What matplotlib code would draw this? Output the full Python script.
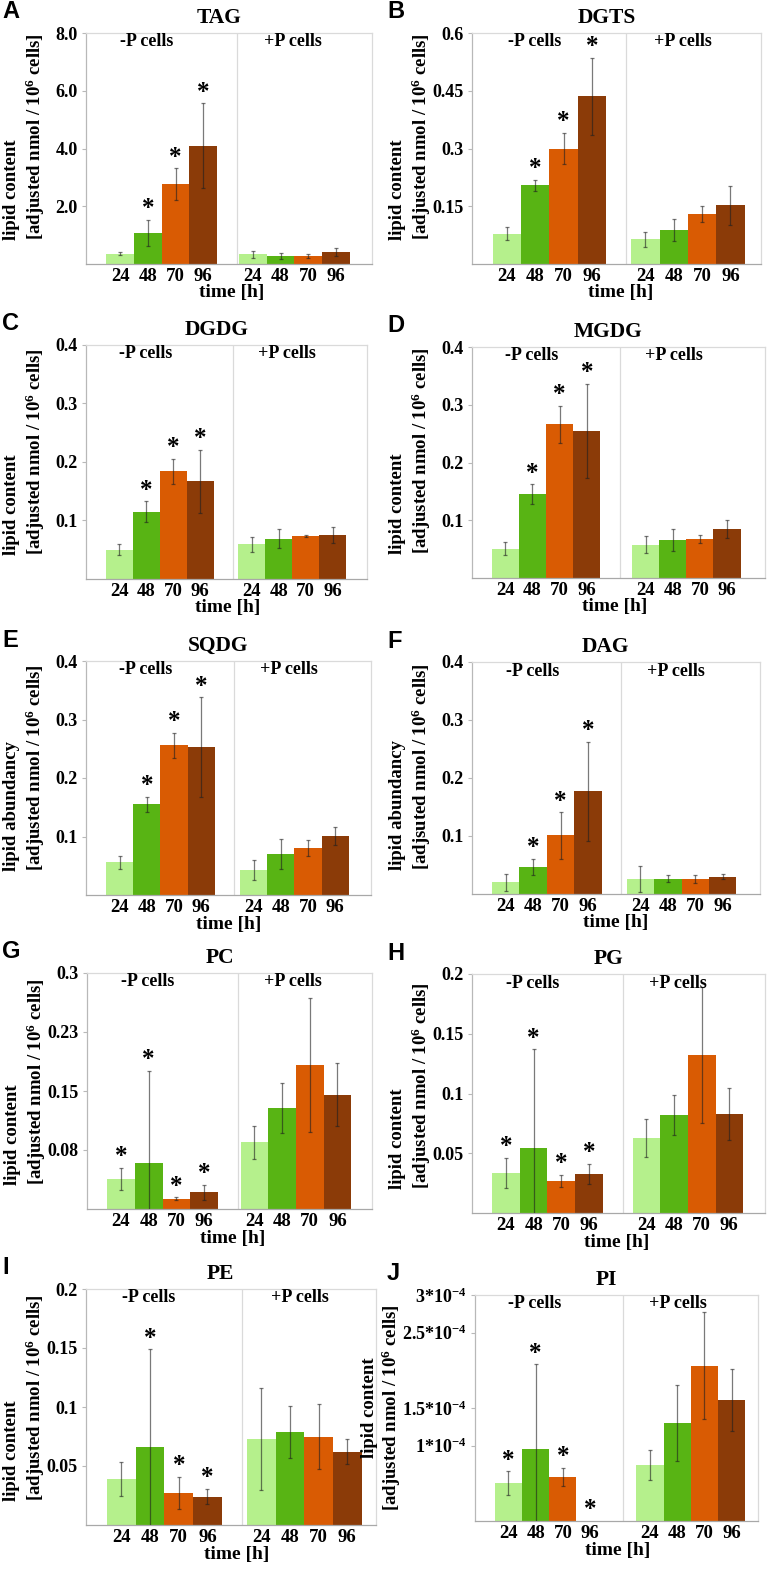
import matplotlib
matplotlib.use('Agg')
import matplotlib.pyplot as plt
import matplotlib.transforms as mtransforms
import numpy as np

W, H, DPI = 772, 1571, 100

plt.rcParams['font.family'] = ['Liberation Serif', 'DejaVu Serif']
plt.rcParams['font.weight'] = 'bold'
plt.rcParams['mathtext.fontset'] = 'custom'
plt.rcParams['mathtext.rm'] = 'Liberation Serif:bold'
plt.rcParams['mathtext.it'] = 'Liberation Serif:bold'
plt.rcParams['mathtext.bf'] = 'Liberation Serif:bold'

# ---------------- data ----------------
times = ["24", "48", "70", "96"]
colors = ['#b5f08c', '#58b414', '#d95b03', '#8b3b08']

TAG_minus = [0.36, 1.08, 2.76, 4.09]
TAG_minus_err = [0.06, 0.44, 0.56, 1.47]
TAG_plus = [0.34, 0.27, 0.27, 0.42]
TAG_plus_err = [0.12, 0.10, 0.07, 0.13]
TAG_stars = [0, 1, 1, 1]

DGTS_minus = [0.079, 0.204, 0.300, 0.436]
DGTS_minus_err = [0.017, 0.014, 0.040, 0.100]
DGTS_plus = [0.064, 0.089, 0.129, 0.152]
DGTS_plus_err = [0.020, 0.029, 0.021, 0.051]
DGTS_stars = [0, 1, 1, 1]

DGDG_minus = [0.050, 0.115, 0.184, 0.167]
DGDG_minus_err = [0.009, 0.018, 0.021, 0.054]
DGDG_plus = [0.059, 0.069, 0.073, 0.075]
DGDG_plus_err = [0.013, 0.016, 0.002, 0.014]
DGDG_stars = [0, 1, 1, 1]

MGDG_minus = [0.051, 0.145, 0.266, 0.255]
MGDG_minus_err = [0.012, 0.017, 0.032, 0.081]
MGDG_plus = [0.058, 0.066, 0.068, 0.085]
MGDG_plus_err = [0.014, 0.019, 0.007, 0.016]
MGDG_stars = [0, 1, 1, 1]

SQDG_minus = [0.056, 0.155, 0.256, 0.253]
SQDG_minus_err = [0.011, 0.013, 0.021, 0.085]
SQDG_plus = [0.043, 0.070, 0.080, 0.101]
SQDG_plus_err = [0.017, 0.026, 0.014, 0.015]
SQDG_stars = [0, 1, 1, 1]

DAG_minus = [0.020, 0.047, 0.101, 0.177]
DAG_minus_err = [0.014, 0.014, 0.040, 0.085]
DAG_plus = [0.026, 0.026, 0.026, 0.030]
DAG_plus_err = [0.023, 0.006, 0.007, 0.004]
DAG_stars = [0, 1, 1, 1]

PC_minus = [0.038, 0.058, 0.013, 0.021]
PC_minus_err = [0.014, 0.118, 0.002, 0.010]
PC_plus = [0.085, 0.128, 0.183, 0.145]
PC_plus_err = [0.021, 0.032, 0.085, 0.040]
PC_stars = [1, 1, 1, 1]

PG_minus = [0.0335, 0.054, 0.027, 0.0326]
PG_minus_err = [0.0125, 0.083, 0.005, 0.0085]
PG_plus = [0.063, 0.082, 0.1325, 0.083]
PG_plus_err = [0.016, 0.017, 0.057, 0.0215]
PG_stars = [1, 1, 1, 1]

PE_minus = [0.039, 0.066, 0.027, 0.024]
PE_minus_err = [0.014, 0.083, 0.0137, 0.0065]
PE_plus = [0.073, 0.079, 0.075, 0.062]
PE_plus_err = [0.043, 0.022, 0.0275, 0.0105]
PE_stars = [0, 1, 1, 1]

PI_minus = [0.50e-4, 0.96e-4, 0.59e-4, 0.0]
PI_minus_err = [0.16e-4, 1.12e-4, 0.12e-4, 0.0]
PI_plus = [0.74e-4, 1.30e-4, 2.06e-4, 1.61e-4]
PI_plus_err = [0.20e-4, 0.50e-4, 0.71e-4, 0.41e-4]
PI_stars = [1, 1, 1, 1]

ticks_8 = [2.0, 4.0, 6.0, 8.0]
ticks_8_labels = ["2.0", "4.0", "6.0", "8.0"]
ticks_06 = [0.15, 0.3, 0.45, 0.6]
ticks_06_labels = ["0.15", "0.3", "0.45", "0.6"]
ticks_04 = [0.1, 0.2, 0.3, 0.4]
ticks_04_labels = ["0.1", "0.2", "0.3", "0.4"]
ticks_03 = [0.075, 0.15, 0.225, 0.3]
ticks_03_labels = ["0.08", "0.15", "0.23", "0.3"]
ticks_02 = [0.05, 0.1, 0.15, 0.2]
ticks_02_labels = ["0.05", "0.1", "0.15", "0.2"]
ticks_pi = [1e-4, 1.5e-4, 2.5e-4, 3e-4]
ticks_pi_labels = ["1*10$^{-4}$", "1.5*10$^{-4}$", "2.5*10$^{-4}$", "3*10$^{-4}$"]

lab_content = "lipid content"
lab_abund = "lipid abundancy"
lab_unit = "[adjusted nmol / 10$^{6}$ cells]"
lab_unit_typo = "[adjsuted nmol / 10$^{6}$ cells]"

panels = [
    ("A", "TAG", lab_content, lab_unit, TAG_minus, TAG_minus_err, TAG_plus, TAG_plus_err, TAG_stars, 8.0, ticks_8, ticks_8_labels),
    ("B", "DGTS", lab_content, lab_unit, DGTS_minus, DGTS_minus_err, DGTS_plus, DGTS_plus_err, DGTS_stars, 0.6, ticks_06, ticks_06_labels),
    ("C", "DGDG", lab_content, lab_unit, DGDG_minus, DGDG_minus_err, DGDG_plus, DGDG_plus_err, DGDG_stars, 0.4, ticks_04, ticks_04_labels),
    ("D", "MGDG", lab_content, lab_unit, MGDG_minus, MGDG_minus_err, MGDG_plus, MGDG_plus_err, MGDG_stars, 0.4, ticks_04, ticks_04_labels),
    ("E", "SQDG", lab_abund, lab_unit, SQDG_minus, SQDG_minus_err, SQDG_plus, SQDG_plus_err, SQDG_stars, 0.4, ticks_04, ticks_04_labels),
    ("F", "DAG", lab_abund, lab_unit_typo, DAG_minus, DAG_minus_err, DAG_plus, DAG_plus_err, DAG_stars, 0.4, ticks_04, ticks_04_labels),
    ("G", "PC", lab_content, lab_unit, PC_minus, PC_minus_err, PC_plus, PC_plus_err, PC_stars, 0.3, ticks_03, ticks_03_labels),
    ("H", "PG", lab_content, lab_unit, PG_minus, PG_minus_err, PG_plus, PG_plus_err, PG_stars, 0.2, ticks_02, ticks_02_labels),
    ("I", "PE", lab_content, lab_unit, PE_minus, PE_minus_err, PE_plus, PE_plus_err, PE_stars, 0.2, ticks_02, ticks_02_labels),
    ("J", "PI", lab_content, lab_unit, PI_minus, PI_minus_err, PI_plus, PI_plus_err, PI_stars, 3e-4, ticks_pi, ticks_pi_labels),
]

# ---------------- layout (pixels) ----------------
# left, top, right, bottom, start of +P group, xmax
layouts = [
    (86, 33, 372, 264, 5.52, 10.32),
    (472, 33, 761, 264, 5.62, 10.2),
    (86, 345, 367, 579, 5.63, 10.4),
    (472, 347, 765, 578, 5.90, 10.8),
    (86, 661, 371, 895, 5.65, 10.46),
    (472, 662, 760, 894, 5.64, 10.5),
    (87, 973, 372, 1209, 5.55, 10.3),
    (472, 974, 765, 1213, 5.81, 10.6),
    (86, 1289, 376, 1525, 5.60, 10.1),
    (475, 1295, 758, 1521, 5.93, 10.4),
]

fig = plt.figure(figsize=(W / DPI, H / DPI), dpi=DPI)


def frect(l, t, r, b):
    return [l / W, 1 - b / H, (r - l) / W, (b - t) / H]


err_kw = dict(fmt='none', ecolor='#202020', alpha=0.6, elinewidth=0.9, capsize=1.6, capthick=0.9, zorder=3)

for idx, (spec, lay) in enumerate(zip(panels, layouts)):
    letter, title, yl1, yl2, mvals, merr, pvals, perr, stars, ymax, yt, ytl = spec
    l, t, r, b, pstart, xmax = lay
    ax = fig.add_axes(frect(l, t, r, b))
    hpx = b - t
    xm = 0.73 + 0.5 + np.arange(4)
    xp = pstart + 0.5 + np.arange(4)

    ax.bar(xm, mvals, width=1.0, color=colors, linewidth=0, zorder=2)
    ax.bar(xp, pvals, width=1.0, color=colors, linewidth=0, zorder=2)
    for xs, vs, es in ((xm, mvals, merr), (xp, pvals, perr)):
        for x, v, e in zip(xs, vs, es):
            if v > 0:
                ax.errorbar([x], [v], yerr=[e], **err_kw)

    ax.set_xlim(0, xmax)
    ax.set_ylim(0, ymax)
    ax.set_yticks(yt)
    ax.set_yticklabels(ytl)
    ax.set_xticks(np.concatenate([xm, xp]))
    ax.set_xticklabels(times * 2)
    ax.tick_params(axis='y', length=3, width=0.8, color='#b8b8b8', pad=3, labelsize=13)
    ax.tick_params(axis='x', length=0, pad=3, labelsize=13.5)

    for side, c in (('left', '#b8b8b8'), ('bottom', '#a8a8a8'), ('top', '#dadada'), ('right', '#dadada')):
        ax.spines[side].set_color(c)
        ax.spines[side].set_linewidth(0.9)
    ax.axvline(5.45, color='#dadada', lw=0.9, zorder=1)

    trans = mtransforms.blended_transform_factory(ax.transData, ax.transAxes)
    ax.text(2.2, 1 - 9 / hpx, "-P cells", transform=trans, ha='center', va='center', fontsize=13)
    ax.text(7.45, 1 - 9 / hpx, "+P cells", transform=trans, ha='center', va='center', fontsize=13)
    ax.text(5.25, -29 / hpx, "time [h]", transform=trans, ha='center', va='center', fontsize=14)

    for i in range(4):
        if stars[i]:
            ax.annotate('*', xy=(xm[i], mvals[i] + merr[i]), xytext=(0, 8),
                        textcoords='offset points', ha='center', va='center', fontsize=18)

    # title & panel letter
    fig.text((l + 0.465 * (r - l)) / W, 1 - (t - 15) / H, title, ha='center', va='center', fontsize=15.5)
    lx = 2 if l < 300 else 387
    fig.text(lx / W, 1 - (t - 21) / H, letter, ha='left', va='center', fontsize=17,
             family='Liberation Sans', weight='bold')

    # y label (two lines)
    if letter == 'J':
        fig.text((l - 93) / W, 1 - ((t + b) / 2) / H, yl1 + "\n" + yl2, rotation=90,
                 ha='center', va='center', multialignment='center', linespacing=1.05, fontsize=13.5)
    else:
        fig.text((l - 61) / W, 1 - (b - 24) / H, yl1 + "\n" + yl2, rotation=90,
                 ha='center', va='bottom', multialignment='left', linespacing=1.25, fontsize=13.5)

fig.savefig('out.png', dpi=DPI)
